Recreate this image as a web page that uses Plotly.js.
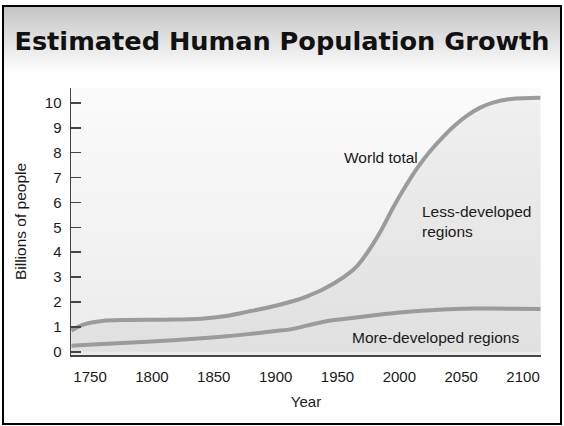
<!DOCTYPE html>
<html>
<head>
<meta charset="utf-8">
<script src="https://cdn.plot.ly/plotly-3.0.1.min.js"></script>
<style>
  html, body { margin: 0; padding: 0; background: #ffffff; }
  #frame {
    position: absolute; left: 2px; top: 5px;
    width: 556px; height: 416px;
    border: 2px solid #000;
    background: linear-gradient(to bottom, #c4c4c4 0px, #ffffff 66px, #ffffff 100%);
  }
  #chart { position: absolute; left: 0; top: 0; width: 564px; height: 426px; }
</style>
</head>
<body>
<div id="frame"></div>
<div id="chart"></div>
<script>
// Population estimates (billions) by year
const years = [1735, 1745, 1760, 1780, 1810, 1840, 1860, 1880, 1900, 1915, 1925, 1940,
               1955, 1965, 1975, 1985, 1995, 2005, 2015, 2025, 2035, 2045, 2055, 2065,
               2075, 2090, 2114];
const worldTotal = [0.85, 1.10, 1.24, 1.28, 1.29, 1.33, 1.44, 1.64, 1.85, 2.05, 2.22, 2.55,
                    3.00, 3.40, 4.05, 4.85, 5.80, 6.65, 7.42, 8.07, 8.62, 9.10, 9.50, 9.80,
                    10.00, 10.16, 10.21];
const moreDeveloped = [0.24, 0.27, 0.31, 0.36, 0.44, 0.54, 0.62, 0.72, 0.83, 0.93, 1.05, 1.22,
                       1.32, 1.38, 1.44, 1.50, 1.55, 1.60, 1.64, 1.67, 1.70, 1.72, 1.73, 1.74,
                       1.74, 1.73, 1.72];

const xTickYears = [1750, 1800, 1850, 1900, 1950, 2000, 2050, 2100];
const yTickValues = [0, 1, 2, 3, 4, 5, 6, 7, 8, 9, 10];

const labelFont = { family: 'Liberation Sans, Arial, sans-serif', size: 15, color: '#1a1a1a' };
const noteFont = { family: 'Liberation Sans, Arial, sans-serif', size: 15.5, color: '#1a1a1a' };
const lineGray = '#9b9b9b';

// soft vertical gradient for the plotting area
const bgSvg = '<svg xmlns="http://www.w3.org/2000/svg" width="10" height="100" preserveAspectRatio="none">' +
  '<defs><linearGradient id="g" x1="0" y1="0" x2="0" y2="1">' +
  '<stop offset="0" stop-color="#fbfbfb"/><stop offset="1" stop-color="#ebebeb"/>' +
  '</linearGradient></defs><rect width="10" height="100" fill="url(#g)"/></svg>';

const traces = [
  {
    x: years, y: worldTotal, type: 'scatter', mode: 'lines', name: 'World total',
    line: { color: lineGray, width: 4, shape: 'spline', smoothing: 1 },
    fill: 'tozeroy', fillcolor: 'rgba(0,0,0,0.045)',
    hoverinfo: 'x+y'
  },
  {
    x: years, y: moreDeveloped, type: 'scatter', mode: 'lines', name: 'More-developed regions',
    line: { color: lineGray, width: 4, shape: 'spline', smoothing: 1 },
    hoverinfo: 'x+y'
  }
];

const layout = {
  width: 564, height: 426, autosize: false,
  margin: { l: 71, r: 23, t: 88, b: 71, pad: 0 },
  paper_bgcolor: 'rgba(0,0,0,0)',
  plot_bgcolor: 'rgba(0,0,0,0)',
  showlegend: false,
  title: {
    text: 'Estimated Human Population Growth',
    font: { family: 'DejaVu Sans, Verdana, sans-serif', size: 25.6, weight: 'bold', color: '#111111' },
    x: 0.5, xref: 'container', xanchor: 'center',
    y: 0.904, yref: 'container', yanchor: 'middle'
  },
  images: [{
    source: 'data:image/svg+xml;charset=utf-8,' + encodeURIComponent(bgSvg),
    xref: 'paper', yref: 'paper', x: 0, y: 1, sizex: 1, sizey: 1,
    xanchor: 'left', yanchor: 'top', sizing: 'stretch', layer: 'below'
  }],
  xaxis: {
    range: [1734.6, 2114.5],
    tickmode: 'array', tickvals: xTickYears, ticktext: xTickYears.map(String),
    ticks: '', showgrid: false, zeroline: false,
    showline: true, linecolor: '#444444', linewidth: 1.5,
    tickfont: labelFont, ticklabelstandoff: 7,
    title: { text: 'Year', font: labelFont, standoff: 13 }
  },
  yaxis: {
    range: [-0.13, 10.6],
    tickmode: 'array', tickvals: yTickValues, ticktext: yTickValues.map(String),
    ticks: 'inside', ticklen: 10, tickwidth: 1.5, tickcolor: '#444444',
    showgrid: false, zeroline: false,
    showline: true, linecolor: '#444444', linewidth: 1.5,
    tickfont: labelFont, ticklabelstandoff: 5,
    title: { text: 'Billions of people', font: { family: labelFont.family, size: 15.5, color: '#1a1a1a' }, standoff: 14 }
  },
  annotations: [
    { x: 1954, y: 7.82, xref: 'x', yref: 'y', text: 'World total', showarrow: false,
      xanchor: 'left', yanchor: 'middle', font: noteFont },
    { x: 2016.3, y: 5.24, xref: 'x', yref: 'y', text: 'Less-developed<br>regions', showarrow: false,
      xanchor: 'left', yanchor: 'middle', align: 'left', font: noteFont },
    { x: 1960.5, y: 0.57, xref: 'x', yref: 'y', text: 'More-developed regions', showarrow: false,
      xanchor: 'left', yanchor: 'middle', font: noteFont }
  ]
};

Plotly.newPlot('chart', traces, layout, { displayModeBar: false, staticPlot: true });
</script>
</body>
</html>
